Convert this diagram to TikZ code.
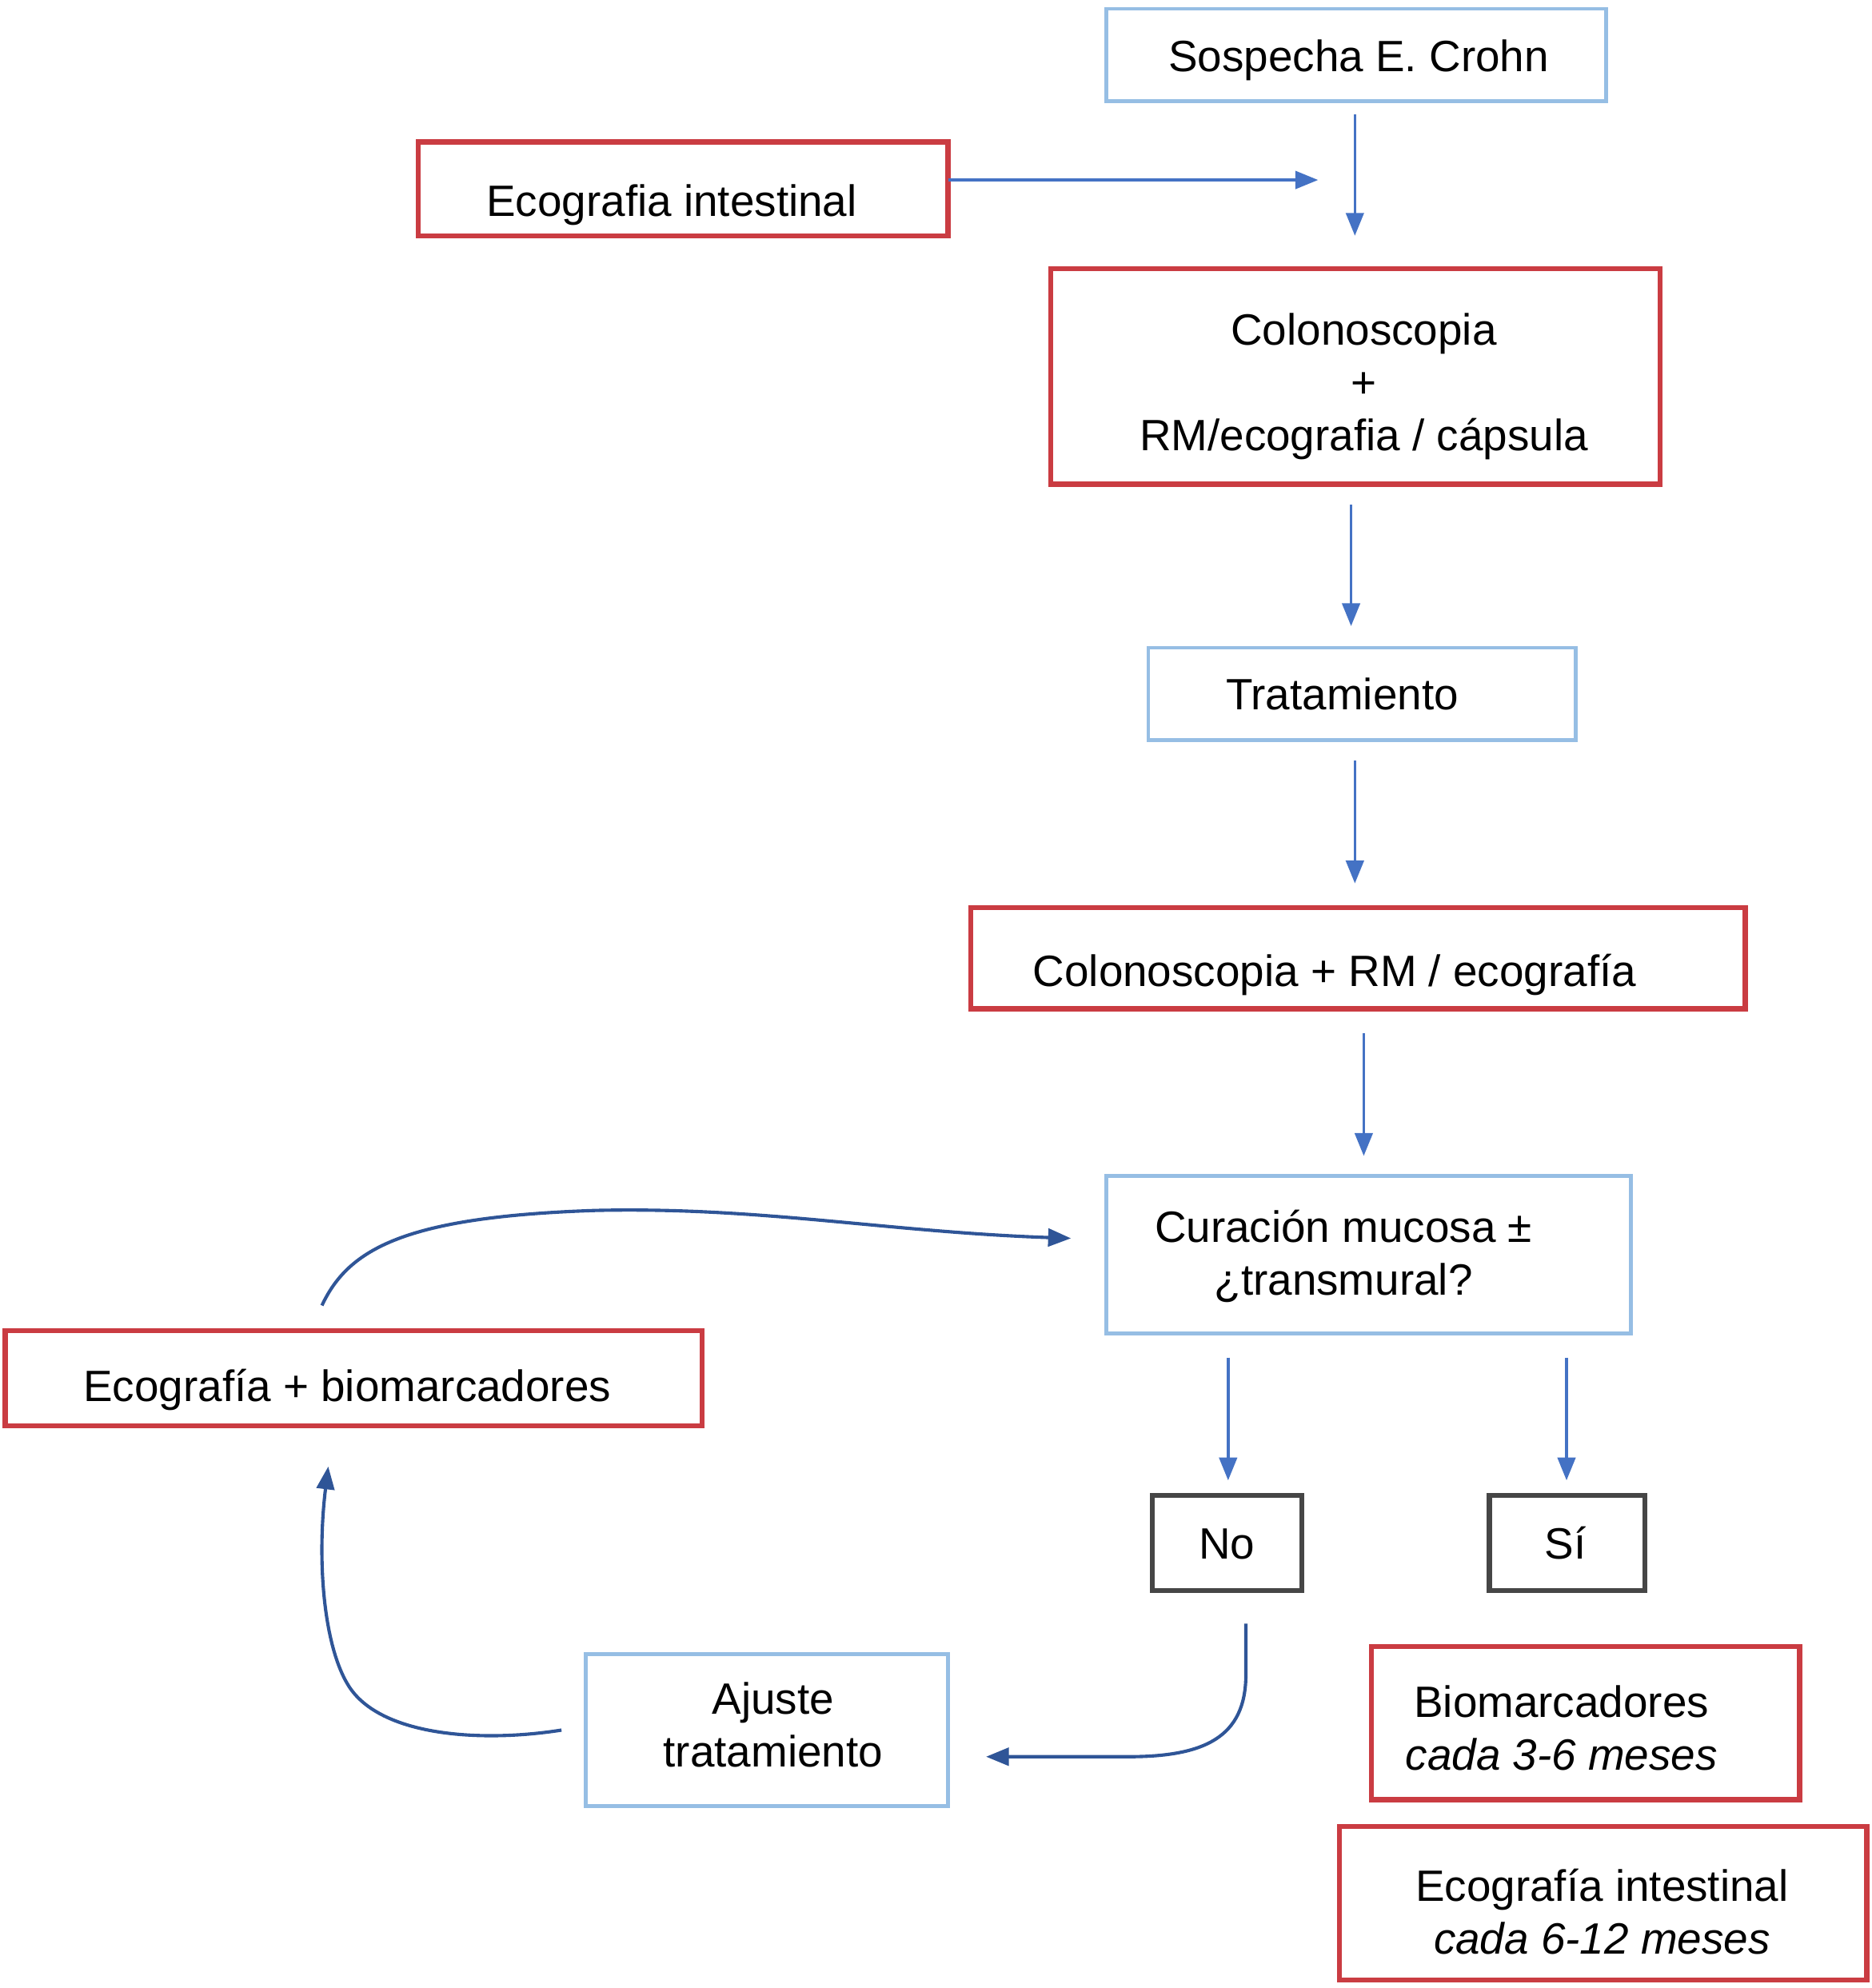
\documentclass[tikz,border=0pt]{standalone}
\usepackage{fontspec}
\setmainfont{Liberation Sans}
\usetikzlibrary{arrows.meta,calc}
\definecolor{bboxc}{RGB}{150,190,228}
\definecolor{rboxc}{RGB}{202,60,66}
\definecolor{gboxc}{RGB}{70,70,70}
\definecolor{arrc}{RGB}{68,114,196}
\definecolor{darrc}{RGB}{47,85,151}
\begin{document}
\begin{tikzpicture}[x=0.5pt,y=-0.5pt,
  boxbase/.style={draw, rectangle, inner sep=0pt, outer sep=0pt},
  bluebox/.style={boxbase, draw=bboxc, line width=1.5pt},
  redbox/.style={boxbase, draw=rboxc, line width=2pt},
  graybox/.style={boxbase, draw=gboxc, line width=2pt},
  txt/.style={inner sep=0pt, font=\fontsize{17.3}{20.75}\selectfont, align=center},
  conn/.style={draw=arrc, line width=1.15pt, -{Triangle[length=9pt,width=7pt]}},
  curveconn/.style={draw=darrc, line width=1.3pt, -{Triangle[length=9pt,width=7pt]}}
  ]
\useasboundingbox (0,0) rectangle (1477,1568.5);

% boxes
\node[bluebox, minimum width=197pt, minimum height=36.5pt] (sos) at (1070,43.5) {};
\node[redbox, minimum width=209pt, minimum height=37pt] (eco) at (539,149) {};
\node[redbox, minimum width=240.5pt, minimum height=85pt] (col1) at (1069.5,297) {};
\node[bluebox, minimum width=168.5pt, minimum height=36.5pt] (trat) at (1074.5,547.5) {};
\node[redbox, minimum width=305.5pt, minimum height=40pt] (col2) at (1071.5,756) {};
\node[bluebox, minimum width=207pt, minimum height=62pt] (cur) at (1080,990) {};
\node[redbox, minimum width=275pt, minimum height=37.5pt] (ecob) at (279,1087.5) {};
\node[graybox, minimum width=59pt, minimum height=37.5pt] (no) at (968,1217.5) {};
\node[graybox, minimum width=61.5pt, minimum height=37.5pt] (si) at (1236.5,1217.5) {};
\node[bluebox, minimum width=143pt, minimum height=60pt] (aj) at (605,1365) {};
\node[redbox, minimum width=169pt, minimum height=60.5pt] (bio) at (1251,1359.5) {};
\node[redbox, minimum width=208pt, minimum height=60.5pt] (ecoi) at (1265,1501.5) {};

% texts
\node[txt, anchor=base] (sosT) at (1072,56.5) {Sospecha E. Crohn};
\node[txt, anchor=base] (ecoT) at (530,170.5) {Ecografia intestinal};
\node[txt] (col1T) at (1076,305) {Colonoscopia\\+\\RM/ecografia / cápsula};
\node[txt, anchor=base] (tratT) at (1059,560) {Tratamiento};
\node[txt, anchor=base] (col2T) at (1053,778) {Colonoscopia + RM / ecografía};
\node[txt] (curT) at (1060,991) {Curación mucosa ±\\¿transmural?};
\node[txt, anchor=base] (ecobT) at (274,1106) {Ecografía + biomarcadores};
\node[txt, anchor=base] (noT) at (968,1230) {No};
\node[txt, anchor=base] (siT) at (1235,1230) {Sí};
\node[txt] (ajT) at (610,1361) {Ajuste\\tratamiento};
\node[txt] (bioT) at (1232,1363.5) {Biomarcadores\\\itshape cada 3-6 meses};
\node[txt] (ecoiT) at (1264,1508.5) {Ecografía intestinal\\\itshape cada 6-12 meses};

% straight connectors
\draw[conn] ($(sos.south)+(-1,10)$) -- ($(col1.north)+(-0.5,-26)$);
\draw[conn] ($(eco.east)+(0,-7)$) -- ($(col1.north)+(-29.5,-70)$);
\draw[conn] ($(col1.south)+(-3.5,16)$) -- ($(trat.north)+(-8.5,-17)$);
\draw[conn] ($(trat.south)+(-5.5,16)$) -- ($(col2.north)+(-2.5,-19)$);
\draw[conn] ($(col2.south)+(4.5,19)$) -- ($(cur.north)+(-4,-16)$);
\draw[conn] ($(cur.south)+(-111,19)$) -- ($(no.north)+(1,-12)$);
\draw[conn] ($(cur.south)+(156,19)$) -- ($(si.north)+(-0.5,-12)$);

% curved connectors
\draw[curveconn] ($(no.south)+(15,26)$) -- ++(0,40) .. controls +(0,50) and +(60,0) .. ++(-93,65) -- ($(aj.east)+(30,21)$);
\draw[curveconn] ($(aj.west)+(-19,0)$) .. controls +(-63,10) and +(25,40) .. ++(-168,-35) .. controls +(-20,-32) and +(-9,73) .. ($(ecob.south)+(-20,32)$);
\draw[curveconn] ($(ecob.north)+(-25,-20)$) .. controls +(21,-45) and +(-150,5) .. ++(216,-75) .. controls +(130,-3) and +(-145,-5) .. ($(cur.west)+(-28,-13)$);
\end{tikzpicture}
\end{document}
